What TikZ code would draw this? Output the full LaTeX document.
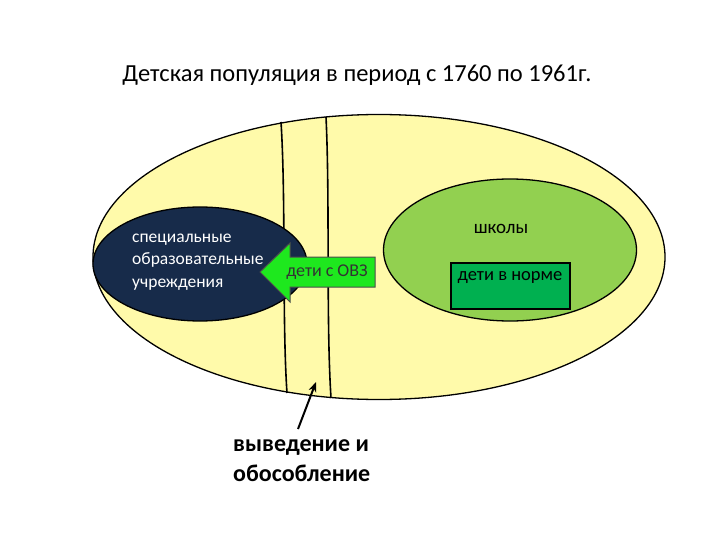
\documentclass[tikz,border=0pt]{standalone}
\usepackage{fontspec}
\setmainfont{Carlito}
\usetikzlibrary{shapes.geometric,arrows.meta}
\definecolor{paleyellow}{RGB}{255,250,170}
\definecolor{navy}{RGB}{23,43,74}
\definecolor{lightgreen}{RGB}{146,208,80}
\definecolor{darkgreen}{RGB}{0,176,80}
\definecolor{brightgreen}{RGB}{30,232,30}
\begin{document}
\begin{tikzpicture}[x=1pt,y=-1pt,
  oval/.style={ellipse,draw=black,line width=1.3pt,inner sep=0pt},
  divider/.style={black,line width=1.6pt},
  txt/.style={font=\fontsize{18}{22}\selectfont,inner sep=0pt}]
\useasboundingbox (0,0) rectangle (720,540);
% title
\node[font=\fontsize{24.5}{28}\selectfont,inner sep=0pt] (title) at (357,75) {Детская популяция в период с 1760 по 1961г.};
% big population ellipse
\node[oval,fill=paleyellow,minimum width=572pt,minimum height=285pt] (pop) at (379,257) {};
% vertical dividers
\coordinate (l1t) at (281,122); \coordinate (l1b) at (287,393);
\coordinate (l2t) at (326,117); \coordinate (l2b) at (331,398);
\draw[divider] (l1t) .. controls (286,200) and (282,320) .. (l1b);
\draw[divider] (l2t) .. controls (330,200) and (326,320) .. (l2b);
% special institutions
\node[oval,fill=navy,minimum width=214pt,minimum height=114pt] (spec) at (200,264) {};
\node[txt,text=white,align=left,anchor=west,font=\fontsize{17.5}{22.5}\selectfont] (spectext) at (132,262) {специальные\\образовательные\\учреждения};
% green arrow
\draw[line width=1pt,draw=black!70,fill=brightgreen]
  (375,257) -- (290,257) -- (290,243) -- (260,272) -- (290,302) -- (290,287) -- (375,287) -- cycle;
\node[txt,text=black!80] (ovz) at (327,272) {дети с ОВЗ};
% schools
\node[oval,fill=lightgreen,minimum width=253pt,minimum height=142pt] (school) at (510,250) {};
\node[txt,font=\fontsize{19}{22}\selectfont] (schooltext) at (501,229) {школы};
\node[draw=black,line width=2pt,fill=darkgreen,minimum width=119pt,minimum height=46pt,inner sep=0pt] (norm) at (510,286) {};
\node[txt,font=\fontsize{18.5}{22}\selectfont] (normtext) at (510,278) {дети в норме};
% pointer and caption
\node[font=\fontsize{24}{30}\selectfont\bfseries,align=left,anchor=north west,inner sep=0pt] (cap) at (233,439) {выведение и\\обособление};
\coordinate (ptr) at (316,382);
\draw[line width=2pt,-{Stealth[length=10pt,width=8pt]}] (298,429) -- (ptr);
\end{tikzpicture}
\end{document}
